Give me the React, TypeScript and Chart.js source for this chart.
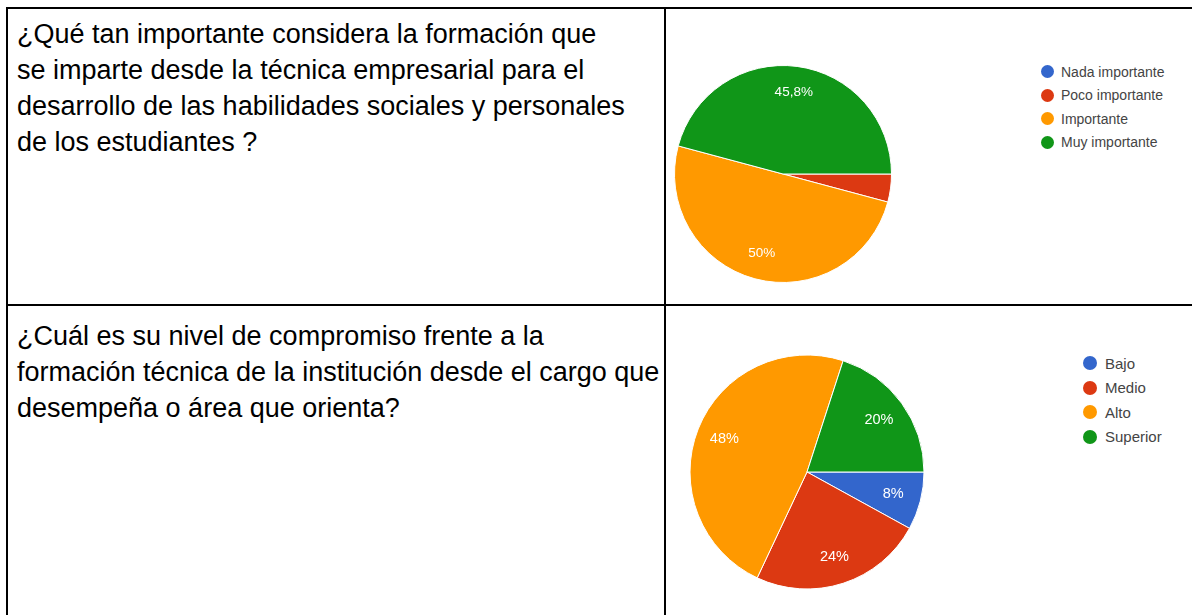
import React, { useEffect, useRef } from "react";
import { Chart, registerables } from "chart.js";

Chart.register(...registerables);

// ---- Data ----
const q1Question = [
  "¿Qué tan importante considera la formación que",
  "se imparte desde la técnica empresarial para el",
  "desarrollo de las habilidades sociales y personales",
  "de los estudiantes ?",
];
const q1Labels = ["Nada importante", "Poco importante", "Importante", "Muy importante"];
const q1Counts = [0, 1, 12, 11];

const q2Question = [
  "¿Cuál es su nivel de compromiso frente a la",
  "formación técnica de la institución desde el cargo que",
  "desempeña o área que orienta?",
];
const q2Labels = ["Bajo", "Medio", "Alto", "Superior"];
const q2Counts = [2, 6, 12, 5];

const sliceColors = ["#3366cc", "#dc3912", "#ff9900", "#109618"];

const FONT = '"Liberation Sans", Arial, Helvetica, sans-serif';

const pieLabelPlugin = {
  id: "pieLabels",
  afterDatasetsDraw(chart: any, _args: any, opts: any) {
    const ctx = chart.ctx;
    const values = chart.data.datasets[0].data as number[];
    const total = values.reduce((a, b) => a + b, 0);
    const meta = chart.getDatasetMeta(0);
    ctx.save();
    ctx.fillStyle = "#ffffff";
    ctx.font = `${opts.size || 13}px ${FONT}`;
    ctx.textAlign = "center";
    ctx.textBaseline = "middle";
    meta.data.forEach((arc: any, i: number) => {
      const pct = (values[i] / total) * 100;
      if (pct < 5) return;
      const p = arc.getProps(["x", "y", "startAngle", "endAngle", "outerRadius"], true);
      const mid = (p.startAngle + p.endAngle) / 2;
      const r = p.outerRadius * 0.76;
      const txt = (Math.round(pct * 10) / 10).toString().replace(".", ",") + "%";
      ctx.fillText(txt, p.x + Math.cos(mid) * r, p.y + Math.sin(mid) * r);
    });
    ctx.restore();
  },
};

function PieChart(props: {
  labels: string[];
  counts: number[];
  left: number;
  top: number;
  size: number;
  radius: number;
  labelSize: number;
}) {
  const ref = useRef<HTMLCanvasElement | null>(null);
  useEffect(() => {
    if (!ref.current) return;
    const chart = new Chart(ref.current, {
      type: "pie",
      data: {
        labels: props.labels,
        datasets: [
          {
            data: props.counts,
            backgroundColor: sliceColors,
            borderColor: "#ffffff",
            borderWidth: 1,
          },
        ],
      },
      options: {
        responsive: false,
        animation: false,
        devicePixelRatio: 1,
        rotation: 90,
        radius: props.radius,
        layout: { padding: 0 },
        plugins: {
          legend: { display: false },
          tooltip: { enabled: false },
          pieLabels: { size: props.labelSize },
        } as any,
      } as any,
      plugins: [pieLabelPlugin],
    });
    return () => chart.destroy();
  }, []);
  return (
    <canvas
      ref={ref}
      width={props.size}
      height={props.size}
      style={{
        position: "absolute",
        left: props.left,
        top: props.top,
        width: props.size,
        height: props.size,
      }}
    />
  );
}

function Legend(props: {
  labels: string[];
  left: number;
  top: number;
  spacing: number;
  dot: number;
  fontSize: number;
  gap: number;
}) {
  return (
    <div style={{ position: "absolute", left: props.left, top: props.top }}>
      {props.labels.map((l, i) => (
        <div
          key={l}
          style={{
            position: "absolute",
            left: 0,
            top: i * props.spacing,
            height: props.spacing,
            display: "flex",
            alignItems: "center",
            whiteSpace: "nowrap",
            fontFamily: FONT,
            fontSize: props.fontSize,
            color: "#444",
          }}
        >
          <span
            style={{
              display: "inline-block",
              width: props.dot,
              height: props.dot,
              borderRadius: "50%",
              background: sliceColors[i],
              marginRight: props.gap,
            }}
          />
          <span>{l}</span>
        </div>
      ))}
    </div>
  );
}

function Question(props: { lines: string[]; left: number; top: number }) {
  return (
    <div
      style={{
        position: "absolute",
        left: props.left,
        top: props.top,
        fontFamily: FONT,
        fontSize: 27,
        lineHeight: "36px",
        color: "#000",
        whiteSpace: "nowrap",
      }}
    >
      {props.lines.map((l, i) => (
        <div key={i}>{l}</div>
      ))}
    </div>
  );
}

const line = (left: number, top: number, width: number, height: number) => (
  <div
    style={{
      position: "absolute",
      left,
      top,
      width,
      height,
      background: "#000",
      zIndex: 5,
    }}
  />
);

export default function App() {
  return (
    <div
      style={{
        position: "absolute",
        left: 0,
        top: 0,
        width: 1192,
        height: 615,
        background: "#fff",
        overflow: "hidden",
      }}
    >
      <Question lines={q1Question} left={17} top={16} />
      <Question lines={q2Question} left={17} top={318} />

      <PieChart labels={q1Labels} counts={q1Counts} left={783 - 112} top={174 - 112} size={224} radius={108.5} labelSize={13.5} />
      <Legend labels={q1Labels} left={1041} top={72 - 12} spacing={23.5} dot={13} fontSize={14} gap={7} />

      <PieChart labels={q2Labels} counts={q2Counts} left={807 - 122} top={472 - 122} size={244} radius={117} labelSize={14.5} />
      <Legend labels={q2Labels} left={1083} top={363 - 12} spacing={24.5} dot={14} fontSize={15} gap={8} />

      {line(6, 7, 1186, 2)}
      {line(6, 7, 2, 608)}
      {line(664, 7, 2, 608)}
      {line(6, 304, 1186, 2)}
    </div>
  );
}
